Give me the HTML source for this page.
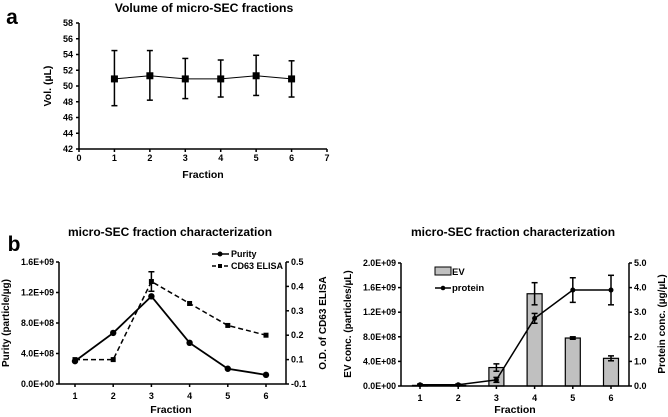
<!DOCTYPE html>
<html><head><meta charset="utf-8"><style>
body{margin:0;background:#fff}
svg{display:block;font-family:"Liberation Sans",Arial,sans-serif;font-weight:bold}
</style></head><body>
<svg id="fig" width="668" height="417" viewBox="0 0 668 417" xmlns="http://www.w3.org/2000/svg"></svg>
<script>
// Panel a data
const aFractions=[1,2,3,4,5,6];
const aVol=[50.9,51.3,50.9,50.9,51.3,50.9];
const aErrHi=[54.5,54.5,53.5,53.3,53.9,53.2];
const aErrLo=[47.5,48.2,48.4,48.6,48.8,48.6];
const aYTicks=[42,44,46,48,50,52,54,56,58];
const aXTicks=[0,1,2,3,4,5,6,7];
// Panel b data
const bFractions=[1,2,3,4,5,6];
const bPurity=[3.0e8,6.7e8,1.15e9,5.4e8,2.0e8,1.2e8];
const bCD63=[0.1,0.1,0.42,0.33,0.24,0.2];
const bCD63Err=[0,0,0.04,0,0,0];
const bLeftTicks=[0,4e8,8e8,1.2e9,1.6e9];
const bLeftLabels=["0.0E+00","4.0E+08","8.0E+08","1.2E+09","1.6E+09"];
const bRightTicks=[0,0.1,0.2,0.3,0.4,0.5];
const bRightLabels=["-0.1","0.1","0.2","0.3","0.4","0.5"];
// Panel c data
const cFractions=[1,2,3,4,5,6];
const cEV=[0.01e9,0.01e9,3.0e8,1.5e9,7.8e8,4.5e8];
const cEVErr=[0,0,0.6e8,1.8e8,0.2e8,0.4e8];
const cProtein=[0.05,0.05,0.25,2.75,3.9,3.9];
const cProteinErr=[0.03,0.03,0.1,0.2,0.5,0.6];
const cLeftTicks=[0,4e8,8e8,1.2e9,1.6e9,2.0e9];
const cLeftLabels=["0.0E+00","4.0E+08","8.0E+08","1.2E+09","1.6E+09","2.0E+09"];
const cRightTicks=[0,1,2,3,4,5];
const cRightLabels=["0.0","1.0","2.0","3.0","4.0","5.0"];

const svg=document.getElementById('fig');
const NS='http://www.w3.org/2000/svg';
function el(tag,attrs,name,text){
  const e=document.createElementNS(NS,tag);
  for(const k in attrs)e.setAttribute(k,attrs[k]);
  
  
  if(text!==undefined)e.textContent=text;
  svg.appendChild(e);return e;
}
function line(x1,y1,x2,y2,name,extra){return el('line',Object.assign({x1,y1,x2,y2,stroke:'#000','stroke-width':1.5},extra||{}),name);}
function txt(x,y,s,size,name,anchor,rot){
  const a={x,y,'font-size':size,'text-anchor':anchor||'middle',fill:'#000'};
  if(rot)a.transform=`rotate(${rot} ${x} ${y})`;
  return el('text',a,name,s);
}
function errbar(x,y1,y2,name){line(x,y1,x,y2,name,{'stroke-width':1.5});line(x-3,y1,x+3,y1,name+'-cap-top');line(x-3,y2,x+3,y2,name+'-cap-bottom');}

// ===== Panel a =====
txt(12,24,'a',21,'panel-a-label');
txt(204,12,'Volume of micro-SEC fractions',12.2,'panel-a-title');
const axL=79,axR=327,ayT=23,ayB=149;
const ax=v=>axL+(v-0)/(7-0)*(axR-axL);
const ay=v=>ayB-(v-42)/(58-42)*(ayB-ayT);
line(axL,ayT,axL,ayB,'a-y-axis');line(axL,ayB,axR,ayB,'a-x-axis');
aYTicks.forEach(t=>{line(axL-3,ay(t),axL,ay(t),'a-y-tick');txt(axL-6,ay(t)+3,String(t),9,'a-y-tick-label','end');});
aXTicks.forEach(t=>{line(ax(t),ayB,ax(t),ayB+3,'a-x-tick');txt(ax(t),ayB+12,String(t),9,'a-x-tick-label');});
txt(51,86,'Vol. (µL)',10.5,'a-y-axis-title','middle',-90);
txt(203,178,'Fraction',10.5,'a-x-axis-title');
el('polyline',{points:aFractions.map((f,i)=>ax(f)+','+ay(aVol[i])).join(' '),fill:'none',stroke:'#000','stroke-width':1},'a-volume-line');
aFractions.forEach((f,i)=>{errbar(ax(f),ay(aErrHi[i]),ay(aErrLo[i]),'a-error-bar');el('rect',{x:ax(f)-3.5,y:ay(aVol[i])-3.5,width:7,height:7,fill:'#000'},'a-point');});

// ===== Panel b =====
txt(14,251,'b',21,'panel-b-label');
txt(170,236,'micro-SEC fraction characterization',12,'panel-b-title');
const bL=59,bR=286,bT=262,bB=384;
const bx=f=>75+(f-1)*(266-75)/5;
const byL=v=>bB-v/1.6e9*(bB-bT);
const byR=v=>bB-v/0.5*(bB-bT);
line(bL,bT,bL,bB,'b-left-axis');line(bR,bT,bR,bB,'b-right-axis');line(bL,bB,bR,bB,'b-x-axis');
bLeftTicks.forEach((t,i)=>{line(bL-3,byL(t),bL,byL(t),'b-left-tick');txt(bL-5,byL(t)+3,bLeftLabels[i],8.8,'b-left-tick-label','end');});
bRightTicks.forEach((t,i)=>{line(bR,byR(t),bR+3,byR(t),'b-right-tick');txt(bR+5,byR(t)+3,bRightLabels[i],9,'b-right-tick-label','start');});
bFractions.forEach(f=>{line(bx(f),bB,bx(f),bB+3,'b-x-tick');txt(bx(f),bB+15,String(f),9,'b-x-tick-label');});
txt(9,323,'Purity (particle/µg)',10,'b-left-axis-title','middle',-90);
txt(326,323,'O.D. of CD63 ELISA',10,'b-right-axis-title','middle',-90);
txt(171,413,'Fraction',10.5,'b-x-axis-title');
el('polyline',{points:bFractions.map((f,i)=>bx(f)+','+byR(bCD63[i])).join(' '),fill:'none',stroke:'#000','stroke-width':1.5,'stroke-dasharray':'5,3'},'b-cd63-line');
bFractions.forEach((f,i)=>{if(bCD63Err[i])errbar(bx(f),byR(bCD63[i]+bCD63Err[i]),byR(bCD63[i]-bCD63Err[i]),'b-cd63-error-bar');el('rect',{x:bx(f)-2.5,y:byR(bCD63[i])-2.5,width:5,height:5,fill:'#000'},'b-cd63-point');});
el('polyline',{points:bFractions.map((f,i)=>bx(f)+','+byL(bPurity[i])).join(' '),fill:'none',stroke:'#000','stroke-width':1.8},'b-purity-line');
bFractions.forEach((f,i)=>el('circle',{cx:bx(f),cy:byL(bPurity[i]),r:3.2,fill:'#000'},'b-purity-point'));
line(212,254,229,254,'b-legend-purity-line');el('circle',{cx:220,cy:254,r:2.5,fill:'#000'},'b-legend-purity-marker');
txt(231,257,'Purity',9,'b-legend-purity-label','start');
line(212,266,229,266,'b-legend-cd63-line',{'stroke-dasharray':'4,2'});el('rect',{x:218,y:264,width:4,height:4,fill:'#000'},'b-legend-cd63-marker');
txt(231,269,'CD63 ELISA',9,'b-legend-cd63-label','start');

// ===== Panel c =====
txt(513,236,'micro-SEC fraction characterization',12,'panel-c-title');
const cL=401,cR=629,cT=263,cB=386;
const cx=f=>420+(f-1)*(611-420)/5;
const cyL=v=>cB-v/2.0e9*(cB-cT);
const cyR=v=>cB-v/5*(cB-cT);
cFractions.forEach((f,i)=>{
  el('rect',{x:cx(f)-7.5,y:cyL(cEV[i]),width:15,height:cB-cyL(cEV[i]),fill:'#c0c0c0',stroke:'#000','stroke-width':1.2},'c-ev-bar');
  if(cEVErr[i])errbar(cx(f),cyL(cEV[i]+cEVErr[i]),cyL(cEV[i]-cEVErr[i]),'c-ev-error-bar');
});
line(cL,cT,cL,cB,'c-left-axis');line(cR,cT,cR,cB,'c-right-axis');line(cL,cB,cR,cB,'c-x-axis');
cLeftTicks.forEach((t,i)=>{line(cL-3,cyL(t),cL,cyL(t),'c-left-tick');txt(cL-5,cyL(t)+3,cLeftLabels[i],8.8,'c-left-tick-label','end');});
cRightTicks.forEach((t,i)=>{line(cR,cyR(t),cR+3,cyR(t),'c-right-tick');txt(cR+5,cyR(t)+3,cRightLabels[i],9,'c-right-tick-label','start');});
cFractions.forEach(f=>{line(cx(f),cB,cx(f),cB+3,'c-x-tick');txt(cx(f),cB+15,String(f),9,'c-x-tick-label');});
txt(351,324,'EV conc. (particles/µL)',10,'c-left-axis-title','middle',-90);
txt(665,324,'Protein conc. (µg/µL)',10,'c-right-axis-title','middle',-90);
txt(515,413,'Fraction',10.5,'c-x-axis-title');
el('polyline',{points:cFractions.map((f,i)=>cx(f)+','+cyR(cProtein[i])).join(' '),fill:'none',stroke:'#000','stroke-width':1.5},'c-protein-line');
cFractions.forEach((f,i)=>{errbar(cx(f),cyR(cProtein[i]+cProteinErr[i]),cyR(cProtein[i]-cProteinErr[i]),'c-protein-error-bar');el('circle',{cx:cx(f),cy:cyR(cProtein[i]),r:2.5,fill:'#000'},'c-protein-point');});
el('rect',{x:435,y:267,width:16,height:8,fill:'#c0c0c0',stroke:'#000','stroke-width':1},'c-legend-ev-swatch');
txt(452,275,'EV',9.5,'c-legend-ev-label','start');
line(435,288,451,288,'c-legend-protein-line');el('circle',{cx:443,cy:288,r:2.3,fill:'#000'},'c-legend-protein-marker');
txt(452,291,'protein',9.5,'c-legend-protein-label','start');
</script>
</body></html>
